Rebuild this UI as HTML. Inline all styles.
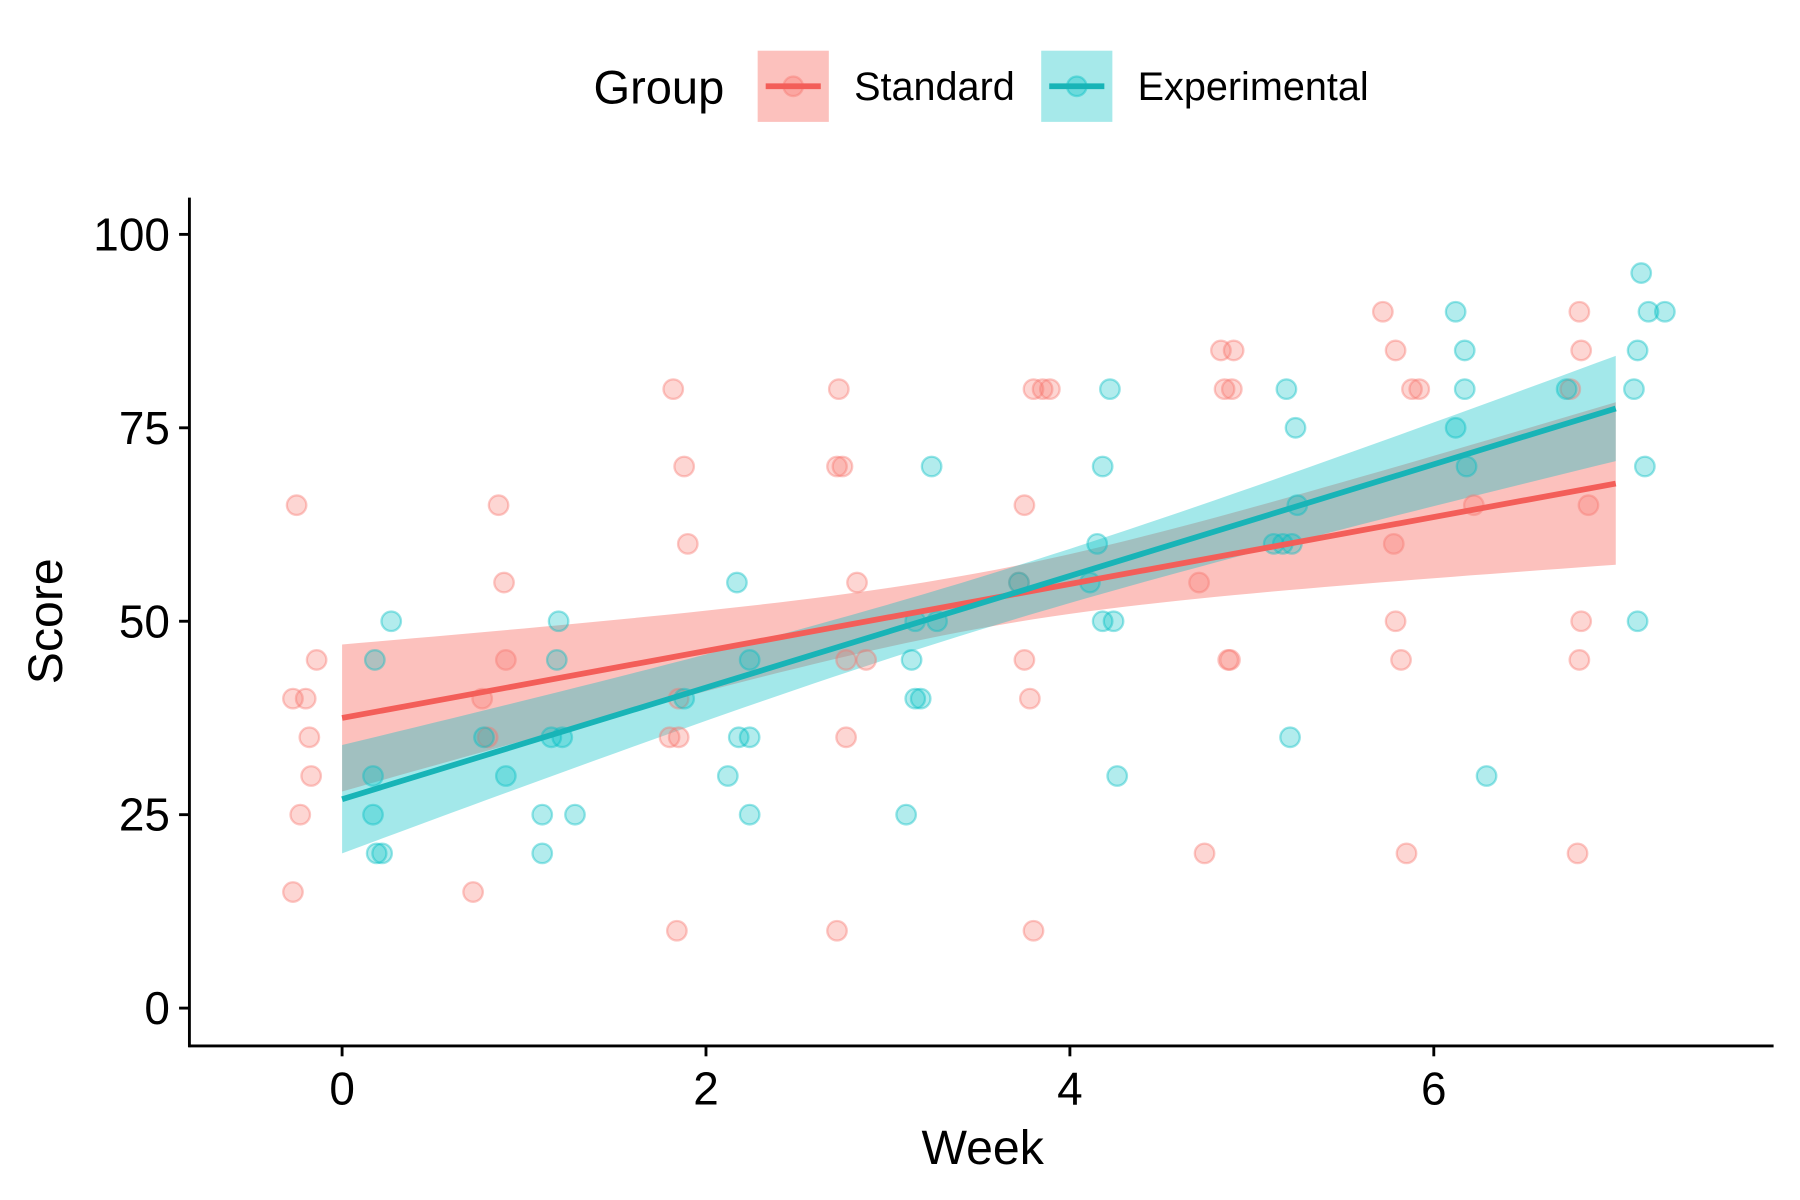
<!DOCTYPE html>
<html><head><meta charset="utf-8"><style>
html,body{margin:0;padding:0;background:#fff;}
svg{display:block;font-family:"Liberation Sans",Arial,sans-serif;}
</style></head><body>
<svg id="chart" width="1800" height="1200" viewBox="0 0 1568 1045">
<g id="bands"></g>
<g id="points"></g>
<g id="lines"></g>
<g id="axes"></g>
<g id="legend">
  <text x="517" y="90" font-size="41">Group</text>
  <g>
    <rect x="660" y="44" width="62" height="62" fill="#F8766D" fill-opacity="0.45"/>
    <circle cx="691" cy="75" r="8.5" fill="#F8766D" fill-opacity="0.35" stroke="#F8766D" stroke-opacity="0.4" stroke-width="2"/>
    <line x1="667" y1="75" x2="715" y2="75" stroke="#F35E59" stroke-width="5"/>
    <text x="744" y="87" font-size="34.5">Standard</text>
  </g>
  <g>
    <rect x="907" y="44" width="62" height="62" fill="#00BFC4" fill-opacity="0.35"/>
    <circle cx="938" cy="75" r="8.5" fill="#00BFC4" fill-opacity="0.35" stroke="#00BFC4" stroke-opacity="0.4" stroke-width="2"/>
    <line x1="914" y1="75" x2="962" y2="75" stroke="#18B4B7" stroke-width="5"/>
    <text x="991" y="87" font-size="34.5">Experimental</text>
  </g>
</g>
</svg>
<script>
const xTicks=[0,2,4,6];
const yTicks=[0,25,50,75,100];
const stdX=[-0.25,-0.27,-0.2,-0.18,-0.17,-0.23,-0.27,-0.14,0.86,0.89,0.9,0.77,0.8,0.72,1.82,1.88,1.9,1.85,1.8,1.85,1.84,2.73,2.72,2.75,2.83,2.77,2.88,2.77,2.72,3.8,3.85,3.89,3.75,3.75,3.78,3.8,3.72,4.83,4.9,4.85,4.89,4.71,4.88,4.87,4.74,5.72,5.79,5.88,5.92,5.78,5.79,5.82,5.85,6.22,6.8,6.81,6.75,6.85,6.81,6.8,6.79];
const stdY=[65,40,40,35,30,25,15,45,65,55,45,40,35,15,80,70,60,40,35,35,10,80,70,70,55,45,45,35,10,80,80,80,65,45,40,10,55,85,85,80,80,55,45,45,20,90,85,80,80,60,50,45,20,65,90,85,80,65,50,45,20];
const expX=[0.27,0.18,0.17,0.17,0.19,0.22,1.19,1.18,1.15,1.21,1.1,1.28,1.1,0.9,0.78,2.17,2.24,2.18,2.24,2.12,2.24,1.88,3.24,3.27,3.15,3.13,3.15,3.18,3.1,4.22,4.18,4.15,4.11,4.18,4.24,4.26,3.72,5.19,5.24,5.25,5.12,5.17,5.22,5.21,6.12,6.17,6.17,6.12,6.18,6.29,6.73,7.14,7.18,7.27,7.12,7.1,7.16,7.12];
const expY=[50,45,30,25,20,20,50,45,35,35,25,25,20,30,35,55,45,35,35,30,25,40,70,50,50,45,40,40,25,80,70,60,55,50,50,30,55,80,75,65,60,60,60,35,90,85,80,75,70,30,80,95,90,90,85,80,70,50];
const stdFit=[37.5,67.8];
const expFit=[27.0,77.5];
const stdHalf=[9.5,3.6,10.5];
const expHalf=[7.0,3.4,6.8];
const sx=v=>298+v*158.5;
const sy=v=>878-v*6.74;
const NS='http://www.w3.org/2000/svg';
function mk(tag,attrs,parent){const e=document.createElementNS(NS,tag);for(const k in attrs)e.setAttribute(k,attrs[k]);parent.appendChild(e);return e;}
const bands=document.getElementById('bands'),pts=document.getElementById('points'),lines=document.getElementById('lines'),axes=document.getElementById('axes');
function band(fit,half,color,op,name){
  const up=[],lo=[];
  for(let i=0;i<=70;i++){const x=i/10;const f=fit[0]+(fit[1]-fit[0])*x/7;const t=(x-3.5)/3.5;const he=t<0?half[0]:half[2];const h=Math.sqrt(half[1]*half[1]+(he*he-half[1]*half[1])*t*t);up.push(sx(x)+','+sy(f+h));lo.unshift(sx(x)+','+sy(f-h));}
  const p=mk('polygon',{points:up.concat(lo).join(' '),fill:color,'fill-opacity':op},bands);
  
  
}
band(stdFit,stdHalf,'#F8766D',0.45,'band-standard');
band(expFit,expHalf,'#00BFC4',0.36,'band-experimental');
function points(X,Y,color,name){
  X.forEach((x,i)=>{const c=mk('circle',{cx:sx(x),cy:sy(Y[i]),r:8.5,fill:color,'fill-opacity':0.3,stroke:color,'stroke-opacity':0.4,'stroke-width':2},pts);
  
  });
}
points(stdX,stdY,'#F8766D','point-standard');
points(expX,expY,'#00BFC4','point-experimental');
function line(fit,color,name){
  const l=mk('line',{x1:sx(0),y1:sy(fit[0]),x2:sx(7),y2:sy(fit[1]),stroke:color,'stroke-width':5},lines);
  
  
}
line(stdFit,'#F35E59','line-standard');
line(expFit,'#18B4B7','line-experimental');
mk('line',{x1:165,y1:172,x2:165,y2:912,stroke:'#000','stroke-width':2.5},axes);
mk('line',{x1:164,y1:911,x2:1545,y2:911,stroke:'#000','stroke-width':2.5},axes);
xTicks.forEach(v=>{mk('line',{x1:sx(v),y1:911,x2:sx(v),y2:920,stroke:'#000','stroke-width':2.5},axes);
  const t=mk('text',{x:sx(v),y:962,'font-size':40,'text-anchor':'middle'},axes);t.textContent=v;
  
  });
yTicks.forEach(v=>{mk('line',{x1:156,y1:sy(v),x2:165,y2:sy(v),stroke:'#000','stroke-width':2.5},axes);
  const t=mk('text',{x:148,y:sy(v)+14,'font-size':40,'text-anchor':'end'},axes);t.textContent=v;
  
  });
const xt=mk('text',{x:856,y:1014,'font-size':42,'text-anchor':'middle'},axes);xt.textContent='Week';


const yt=mk('text',{x:0,y:0,'font-size':42,'text-anchor':'middle',transform:'translate(54,541) rotate(-90)'},axes);yt.textContent='Score';


</script>
</body></html>
